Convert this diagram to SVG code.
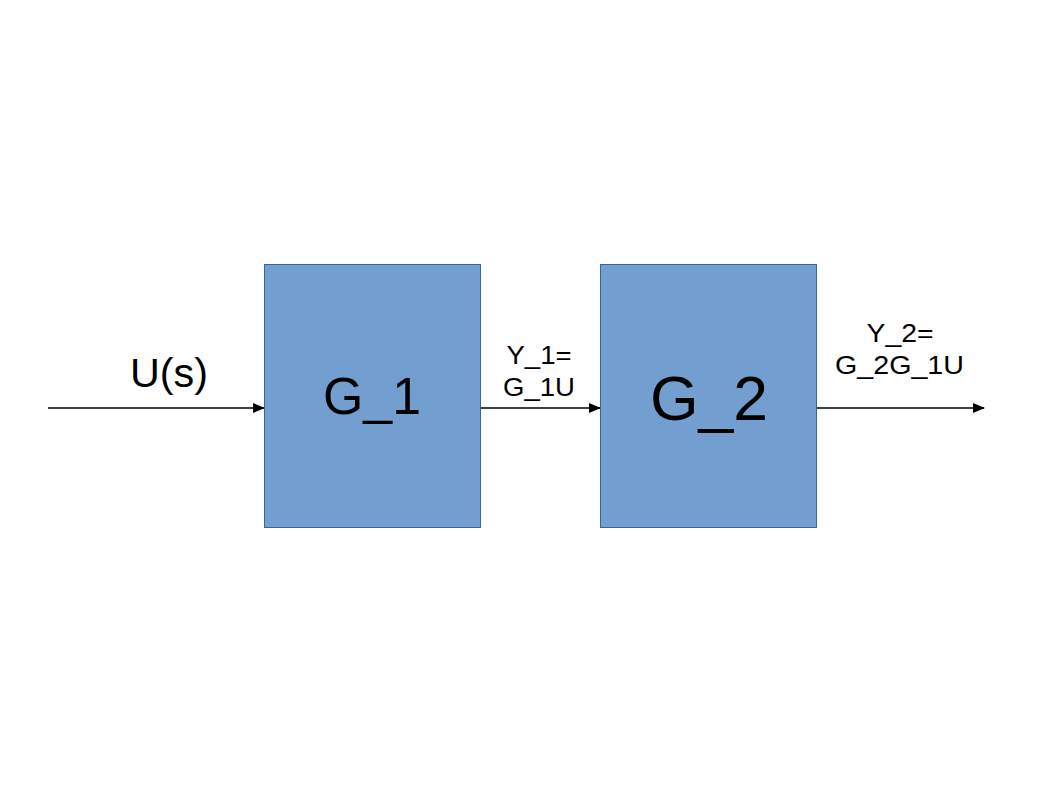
<svg xmlns="http://www.w3.org/2000/svg" width="1058" height="794" viewBox="0 0 1058 794">
<style>
.box{fill:#729fcf;stroke:#3465a4;stroke-width:1}
.lbl{font-family:"Liberation Sans",Arial,sans-serif;fill:#000;text-anchor:middle}
.wire{stroke:#000;stroke-width:1.3;fill:none}
</style>
<defs>
<marker id="ah" markerWidth="12" markerHeight="10" refX="11" refY="5" orient="auto" markerUnits="userSpaceOnUse">
<path d="M0,0 L12,5 L0,10 Z" fill="#000"/>
</marker>
</defs>
<rect width="1058" height="794" fill="#fff"/>
<g id="connectors">
<line class="wire" x1="48" y1="408" x2="264" y2="408" marker-end="url(#ah)"/>
<line class="wire" x1="480" y1="408" x2="600" y2="408" marker-end="url(#ah)"/>
<line class="wire" x1="816" y1="408" x2="984" y2="408" marker-end="url(#ah)"/>
<text class="lbl" x="169" y="387" font-size="40" textLength="78" lengthAdjust="spacingAndGlyphs">U(s)</text>
<text class="lbl" x="539" y="364" font-size="26" textLength="65" lengthAdjust="spacingAndGlyphs">Y_1=</text>
<text class="lbl" x="539" y="396" font-size="26" textLength="72" lengthAdjust="spacingAndGlyphs">G_1U</text>
<text class="lbl" x="900" y="342" font-size="26" textLength="67" lengthAdjust="spacingAndGlyphs">Y_2=</text>
<text class="lbl" x="899.5" y="374" font-size="26" textLength="129" lengthAdjust="spacingAndGlyphs">G_2G_1U</text>
</g>
<g id="g1">
<rect class="box" x="264.5" y="264.5" width="216" height="263"/>
<text class="lbl" x="372" y="414" font-size="51" textLength="98" lengthAdjust="spacingAndGlyphs">G_1</text>
</g>
<g id="g2">
<rect class="box" x="600.5" y="264.5" width="216" height="263"/>
<text class="lbl" x="709" y="420" font-size="63" textLength="118" lengthAdjust="spacingAndGlyphs">G_2</text>
</g>
</svg>
